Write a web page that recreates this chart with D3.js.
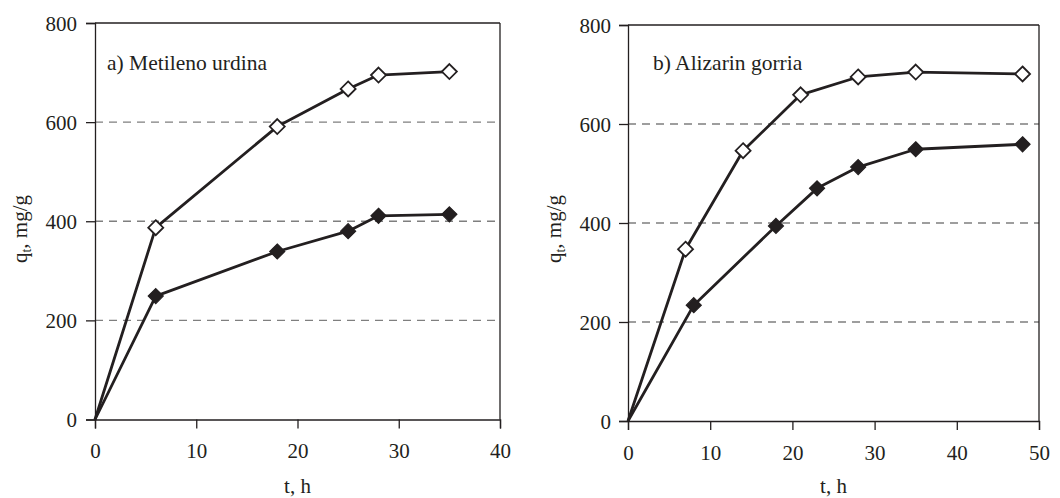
<!DOCTYPE html>
<html>
<head>
<meta charset="utf-8">
<script src="https://cdn.jsdelivr.net/npm/d3@7"></script>
</head>
<body style="margin:0; background:#fff">
<svg id="chart" width="1060" height="498"></svg>
<script>
// panel a) Metileno urdina
var timeA = [0, 6, 18, 25, 28, 35];
var openA = [0, 387, 591, 667, 695, 702];
var timeA2 = [0, 6, 18, 25, 28, 35];
var filledA = [0, 249, 339, 380, 411, 414];

// panel b) Alizarin gorria
var timeB = [0, 7, 14, 21, 28, 35, 48];
var openB = [0, 347, 546, 659, 695, 705, 701];
var timeB2 = [0, 8, 18, 23, 28, 35, 48];
var filledB = [0, 234, 394, 470, 513, 549, 559];

var yTicks = [0, 200, 400, 600, 800];
var gridTicks = [200, 400, 600];
var xTicksA = [0, 10, 20, 30, 40];
var xTicksB = [0, 10, 20, 30, 40, 50];

var svg = d3.select("#chart");
var ink = "#231f20";
var serif = "Liberation Serif";

function panel(opt) {
    var g = svg.append("g");

    var x = d3.scaleLinear().domain([0, opt.xMax]).range([opt.left, opt.right]);
    var y = d3.scaleLinear().domain([0, 800]).range([opt.bottom, opt.top]);

    // dashed gridlines
    g.selectAll("line.grid")
        .data(gridTicks)
        .enter()
        .append("line")
        .attr("class", "grid")
        .attr("x1", opt.left)
        .attr("x2", opt.right)
        .attr("y1", function(d) { return y(d); })
        .attr("y2", function(d) { return y(d); })
        .attr("stroke", "#7f7f7f")
        .attr("stroke-width", 1.4)
        .attr("stroke-dasharray", "8,6");

    // frame top and right
    g.append("line")
        .attr("x1", opt.left).attr("x2", opt.right)
        .attr("y1", y(800)).attr("y2", y(800))
        .attr("stroke", ink).attr("stroke-width", 1.3);
    g.append("line")
        .attr("x1", opt.right).attr("x2", opt.right)
        .attr("y1", y(800)).attr("y2", y(0))
        .attr("stroke", ink).attr("stroke-width", 1.3);

    // axes
    var yAxis = d3.axisLeft(y).tickValues(yTicks).tickSize(9).tickPadding(opt.yPad);
    var xAxis = d3.axisBottom(x).tickValues(opt.xTicks).tickSize(9).tickPadding(15);

    var ya = g.append("g")
        .attr("transform", "translate(" + opt.left + ",0)")
        .call(yAxis);
    var xa = g.append("g")
        .attr("transform", "translate(0," + opt.bottom + ")")
        .call(xAxis);

    [ya, xa].forEach(function(a) {
        a.attr("font-family", serif).attr("font-size", 21);
        a.select(".domain").attr("stroke", ink).attr("stroke-width", 1.3);
        a.selectAll(".tick line").attr("stroke", ink).attr("stroke-width", 1.3);
        a.selectAll(".tick text")
            .attr("font-family", serif)
            .attr("font-size", 21)
            .attr("fill", ink);
    });
    ya.selectAll(".tick text").attr("dy", "0.34em");
    xa.selectAll(".tick text").attr("dy", "0.7em");

    // series lines
    var line = d3.line()
        .x(function(d) { return x(d[0]); })
        .y(function(d) { return y(d[1]); });

    var openPts = opt.tOpen.map(function(t, i) { return [t, opt.open[i]]; });
    var filledPts = opt.tFilled.map(function(t, i) { return [t, opt.filled[i]]; });

    [openPts, filledPts].forEach(function(pts) {
        g.append("path")
            .datum(pts)
            .attr("d", line)
            .attr("fill", "none")
            .attr("stroke", ink)
            .attr("stroke-width", 2.8)
            .attr("stroke-linejoin", "round");
    });

    var diamondPath = "M0,-7.5L7.5,0L0,7.5L-7.5,0Z";

    g.selectAll("path.filled")
        .data(filledPts.slice(1))
        .enter()
        .append("path")
        .attr("class", "filled")
        .attr("d", diamondPath)
        .attr("transform", function(d) { return "translate(" + x(d[0]) + "," + y(d[1]) + ")"; })
        .attr("fill", ink)
        .attr("stroke", ink)
        .attr("stroke-width", 1.2);

    g.selectAll("path.open")
        .data(openPts.slice(1))
        .enter()
        .append("path")
        .attr("class", "open")
        .attr("d", diamondPath)
        .attr("transform", function(d) { return "translate(" + x(d[0]) + "," + y(d[1]) + ")"; })
        .attr("fill", "#fff")
        .attr("stroke", ink)
        .attr("stroke-width", 1.8);

    // panel label
    g.append("text")
        .attr("x", opt.labelX)
        .attr("y", 70)
        .attr("font-family", serif)
        .attr("font-size", 21.5)
        .attr("fill", ink)
        .text(opt.label);

    // axis titles
    g.append("text")
        .attr("x", (opt.left + opt.right) / 2)
        .attr("y", 493)
        .attr("text-anchor", "middle")
        .attr("font-family", serif)
        .attr("font-size", 21)
        .attr("fill", ink)
        .text("t, h");

    var yt = g.append("text")
        .attr("transform", "translate(" + opt.titleX + "," + 229 + ") rotate(-90)")
        .attr("text-anchor", "middle")
        .attr("font-family", serif)
        .attr("font-size", 21)
        .attr("fill", ink);
    yt.append("tspan").text("q");
    yt.append("tspan").attr("dy", 4).attr("font-size", 14).text("t");
    yt.append("tspan").attr("dy", -4).text(", mg/g");
}

panel({
    left: 95, right: 500, top: 23, bottom: 419.5,
    xMax: 40, xTicks: xTicksA, yPad: 9,
    tOpen: timeA, open: openA, tFilled: timeA2, filled: filledA,
    label: "a) Metileno urdina", labelX: 107, titleX: 27
});

panel({
    left: 628, right: 1039, top: 25, bottom: 421,
    xMax: 50, xTicks: xTicksB, yPad: 8,
    tOpen: timeB, open: openB, tFilled: timeB2, filled: filledB,
    label: "b) Alizarin gorria", labelX: 653, titleX: 561
});
</script>
</body>
</html>
